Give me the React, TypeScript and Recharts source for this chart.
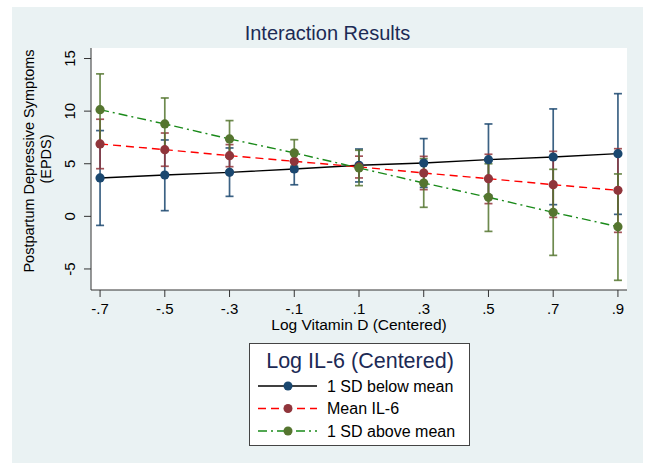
import React from "react";
import { ComposedChart, Line, ErrorBar, XAxis, YAxis, CartesianGrid } from "recharts";

const X_VALUES = [-0.7, -0.5, -0.3, -0.1, 0.1, 0.3, 0.5, 0.7, 0.9];
const Y_TICKS = [-5, 0, 5, 10, 15];

const BELOW = [3.65, 3.93, 4.18, 4.5, 4.85, 5.07, 5.39, 5.64, 5.96];
const BELOW_LO = [-0.86, 0.54, 1.9, 3.0, 3.27, 2.75, 2.0, 1.11, 0.19];
const BELOW_HI = [8.15, 7.26, 6.5, 6.0, 6.4, 7.39, 8.78, 10.21, 11.66];

const MEAN = [6.88, 6.34, 5.77, 5.23, 4.7, 4.12, 3.58, 3.01, 2.47];
const MEAN_LO = [4.53, 4.76, 4.72, 4.28, 3.65, 2.54, 1.21, -0.1, -1.52];
const MEAN_HI = [9.23, 7.92, 6.82, 6.18, 5.72, 5.7, 5.9, 6.18, 6.43];

const ABOVE = [10.14, 8.78, 7.36, 6.03, 4.6, 3.17, 1.81, 0.38, -0.98];
const ABOVE_LO = [6.74, 6.31, 5.62, 4.77, 2.92, 0.86, -1.43, -3.71, -6.08];
const ABOVE_HI = [13.54, 11.25, 9.1, 7.29, 6.28, 5.48, 5.0, 4.47, 4.03];

const SERIES_NAMES = ["1 SD below mean", "Mean IL-6", "1 SD above mean"];
const TITLE = "Interaction Results";
const X_TITLE = "Log Vitamin D (Centered)";
const Y_TITLE = ["Postpartum Depressive Symptoms", "(EPDS)"];
const LEGEND_TITLE = "Log IL-6 (Centered)";

const FONT = "'Liberation Sans', Arial, Helvetica, sans-serif";
const NAVY = "#1c2a55";
const MARKER = ["#1a476f", "#90353b", "#55752f"];
const LINE = ["#000000", "#ff0000", "#1a8a1a"];
const DASH = [undefined, "8 5", "9 4 2 4"];

const data = X_VALUES.map((x, i) => ({
  x,
  below: BELOW[i],
  belowCI: BELOW[i],
  belowErr: [BELOW[i] - BELOW_LO[i], BELOW_HI[i] - BELOW[i]],
  mean: MEAN[i],
  meanCI: MEAN[i],
  meanErr: [MEAN[i] - MEAN_LO[i], MEAN_HI[i] - MEAN[i]],
  above: ABOVE[i],
  aboveCI: ABOVE[i],
  aboveErr: [ABOVE[i] - ABOVE_LO[i], ABOVE_HI[i] - ABOVE[i]],
}));

const fmtX = (v: number) => {
  const s = Math.abs(v).toFixed(1).replace(/^0/, "");
  return v < 0 ? "-" + s : s;
};

const XTick = (props: any) => {
  const { x, y, payload } = props;
  return (
    <text x={x} y={y + 9} textAnchor="middle" dominantBaseline="central" fontSize={15} fontFamily={FONT} fill="#000">
      {fmtX(payload.value)}
    </text>
  );
};

const YTick = (props: any) => {
  const { x, y, payload } = props;
  const cx = x - 12;
  return (
    <text
      x={cx}
      y={y}
      transform={`rotate(-90 ${cx} ${y})`}
      textAnchor="middle"
      dominantBaseline="central"
      fontSize={15}
      fontFamily={FONT}
      fill="#000"
    >
      {payload.value}
    </text>
  );
};

const XLabel = (props: any) => {
  const vb = props.viewBox || { x: 91, y: 290, width: 536 };
  return (
    <text x={vb.x + vb.width / 2} y={324} textAnchor="middle" dominantBaseline="central" fontSize={15.5} fontFamily={FONT} fill="#000">
      {X_TITLE}
    </text>
  );
};

const YLabel = () => (
  <g>
    <text transform="translate(29,161) rotate(-90)" textAnchor="middle" dominantBaseline="central" fontSize={14.5} fontFamily={FONT} fill="#000">
      {Y_TITLE[0]}
    </text>
    <text transform="translate(46,159) rotate(-90)" textAnchor="middle" dominantBaseline="central" fontSize={14.5} fontFamily={FONT} fill="#000">
      {Y_TITLE[1]}
    </text>
  </g>
);

const LegendBox = () => (
  <div
    style={{
      position: "absolute",
      left: 249,
      top: 343,
      width: 221,
      height: 103,
      boxSizing: "border-box",
      border: "1px solid #444",
      background: "#fff",
    }}
  >
    <svg width={219} height={101} style={{ display: "block" }}>
      <text x={110} y={17} textAnchor="middle" dominantBaseline="central" fontSize={21.5} fontFamily={FONT} fill={NAVY}>
        {LEGEND_TITLE}
      </text>
      {SERIES_NAMES.map((name, i) => {
        const cy = 42 + i * 22.5;
        return (
          <g key={name}>
            <line x1={8} x2={67} y1={cy} y2={cy} stroke={LINE[i]} strokeWidth={1.4} strokeDasharray={DASH[i]} />
            <circle cx={38} cy={cy} r={4.5} fill={MARKER[i]} />
            <text x={77} y={cy} dominantBaseline="central" fontSize={16} fontFamily={FONT} fill="#000">
              {name}
            </text>
          </g>
        );
      })}
    </svg>
  </div>
);

const seriesKeys = ["below", "mean", "above"];

export default function App() {
  return (
    <div style={{ position: "absolute", left: 0, top: 0, width: 645, height: 463, background: "#fff", overflow: "hidden" }}>
      <div style={{ position: "absolute", left: 12, top: 7, width: 631, height: 456, background: "#eaf2f3" }} />
      <div
        style={{
          position: "absolute",
          left: 12,
          width: 631,
          top: 21,
          textAlign: "center",
          fontFamily: FONT,
          fontSize: 20,
          color: NAVY,
          lineHeight: "24px",
        }}
      >
        {TITLE}
      </div>
      <div style={{ position: "absolute", left: 0, top: 0 }}>
        <ComposedChart width={645} height={463} data={data} margin={{ top: 48, right: 18, bottom: 133, left: 31 }}>
          <CartesianGrid horizontal={false} vertical={false} fill="#ffffff" stroke="none" />
          <XAxis
            type="number"
            dataKey="x"
            domain={[-0.728, 0.928]}
            ticks={X_VALUES}
            allowDataOverflow
            height={40}
            tickSize={7}
            tickMargin={2}
            axisLine={{ stroke: "#333", strokeWidth: 1 }}
            tickLine={{ stroke: "#333", strokeWidth: 1 }}
            tick={<XTick />}
            label={<XLabel />}
          />
          <YAxis
            type="number"
            domain={[-7, 16]}
            ticks={Y_TICKS}
            allowDataOverflow
            width={60}
            tickSize={7}
            tickMargin={2}
            axisLine={{ stroke: "#333", strokeWidth: 1 }}
            tickLine={{ stroke: "#333", strokeWidth: 1 }}
            tick={<YTick />}
            label={<YLabel />}
          />
          {seriesKeys.map((k, i) => (
            <Line
              key={k + "CI"}
              dataKey={k + "CI"}
              stroke="none"
              dot={false}
              activeDot={false}
              legendType="none"
              isAnimationActive={false}
            >
              <ErrorBar
                dataKey={k + "Err"}
                direction="y"
                width={4}
                stroke={MARKER[i]}
                strokeOpacity={0.85}
                strokeWidth={1.7}
                isAnimationActive={false}
              />
            </Line>
          ))}
          {seriesKeys.map((k, i) => (
            <Line
              key={k}
              dataKey={k}
              name={SERIES_NAMES[i]}
              stroke={LINE[i]}
              strokeWidth={1.4}
              strokeDasharray={DASH[i]}
              dot={{ r: 4.6, fill: MARKER[i], stroke: MARKER[i], strokeWidth: 0 }}
              activeDot={false}
              isAnimationActive={false}
            />
          ))}
        </ComposedChart>
      </div>
      <LegendBox />
    </div>
  );
}
